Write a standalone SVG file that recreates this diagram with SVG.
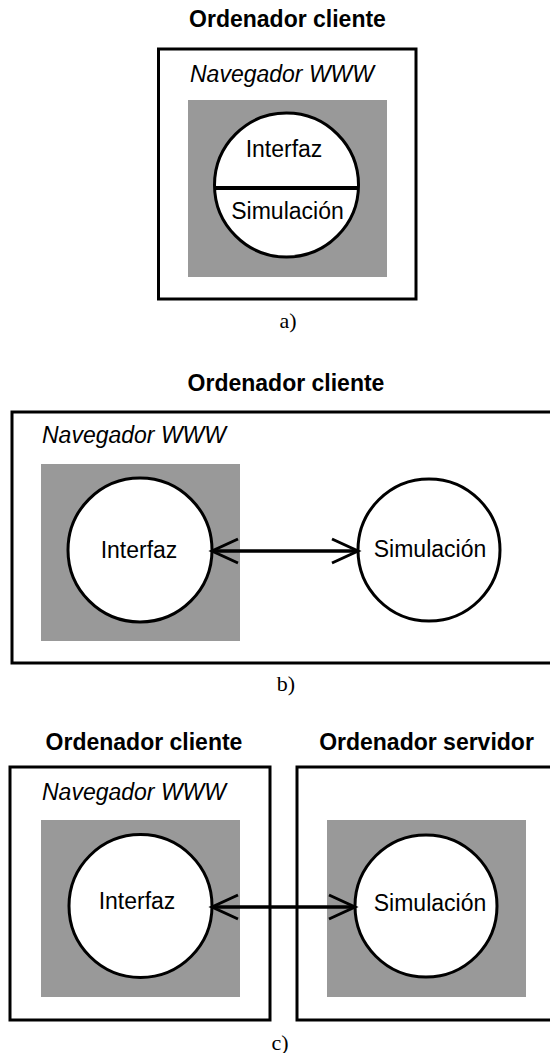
<svg xmlns="http://www.w3.org/2000/svg" width="550" height="1053" viewBox="0 0 550 1053">
<style>
.box{fill:#fff;stroke:#000;stroke-width:3}
.gray{fill:#999;stroke:none}
.node{fill:#fff;stroke:#000;stroke-width:3}
.divider{stroke:#000;stroke-width:4;fill:none}
.title{font-family:"Liberation Sans",Arial,sans-serif;font-weight:bold;font-size:23px;text-anchor:middle;fill:#000}
.nav{font-family:"Liberation Sans",Arial,sans-serif;font-style:italic;font-size:23px;fill:#000}
.lbl{font-family:"Liberation Sans",Arial,sans-serif;font-size:23px;text-anchor:middle;fill:#000}
.cap{font-family:"Liberation Serif","Times New Roman",serif;font-size:22px;text-anchor:middle;fill:#000}
.conn{stroke:#000;stroke-width:3.5;fill:none}
</style>
<defs>
<marker id="vee" viewBox="-30 -16 34 32" refX="0" refY="0" markerWidth="34" markerHeight="32" markerUnits="userSpaceOnUse" orient="auto-start-reverse">
<path d="M-26,-12 L0,0 L-26,12" fill="none" stroke="#000" stroke-width="3"/>
</marker>
</defs>
<rect width="550" height="1053" fill="#fff"/>

<!-- Panel a -->
<g id="a-title"><text class="title" x="287.5" y="27">Ordenador cliente</text></g>
<g id="a-cliente">
<rect class="box" x="158.5" y="49" width="257.5" height="250"/>
<text class="nav" x="190" y="82">Navegador WWW</text>
<rect class="gray" x="188" y="100" width="199" height="177"/>
</g>
<g id="a-applet">
<circle class="node" cx="286.5" cy="185" r="72"/>
<line class="divider" x1="214.6" y1="188" x2="358.4" y2="188"/>
<text class="lbl" x="284" y="157">Interfaz</text>
<text class="lbl" x="287.5" y="219">Simulación</text>
</g>
<text class="cap" x="288" y="328">a)</text>

<!-- Panel b -->
<g id="b-title"><text class="title" x="286" y="391">Ordenador cliente</text></g>
<g id="b-cliente">
<rect class="box" x="12" y="412" width="560" height="251"/>
<text class="nav" x="42" y="443">Navegador WWW</text>
<rect class="gray" x="41" y="464" width="199" height="177"/>
</g>
<g id="b-interfaz">
<circle class="node" cx="140" cy="550" r="72"/>
<text class="lbl" x="139" y="558">Interfaz</text>
</g>
<g id="b-simulacion">
<circle class="node" cx="429" cy="550" r="71"/>
<text class="lbl" x="430" y="557">Simulación</text>
</g>
<text class="cap" x="286" y="691">b)</text>

<!-- Panel c -->
<g id="c-title-cliente"><text class="title" x="144" y="750">Ordenador cliente</text></g>
<g id="c-title-servidor"><text class="title" x="426.5" y="750">Ordenador servidor</text></g>
<g id="c-cliente">
<rect class="box" x="10" y="767" width="260" height="253"/>
<text class="nav" x="42" y="800">Navegador WWW</text>
<rect class="gray" x="41" y="820" width="199" height="177"/>
</g>
<g id="c-servidor">
<rect class="box" x="297" y="767" width="270" height="253"/>
<rect class="gray" x="327" y="820" width="199" height="177"/>
</g>
<g id="c-interfaz">
<circle class="node" cx="140.5" cy="906" r="71.5"/>
<text class="lbl" x="137" y="909">Interfaz</text>
</g>
<g id="c-simulacion">
<circle class="node" cx="426" cy="906" r="71"/>
<text class="lbl" x="430" y="911">Simulación</text>
</g>
<text class="cap" x="280" y="1050">c)</text>

<g id="connectors">
<line class="conn" x1="212" y1="551" x2="358" y2="551" marker-start="url(#vee)" marker-end="url(#vee)"/>
<line class="conn" x1="212" y1="907" x2="355" y2="907" marker-start="url(#vee)" marker-end="url(#vee)"/>
</g>
</svg>
